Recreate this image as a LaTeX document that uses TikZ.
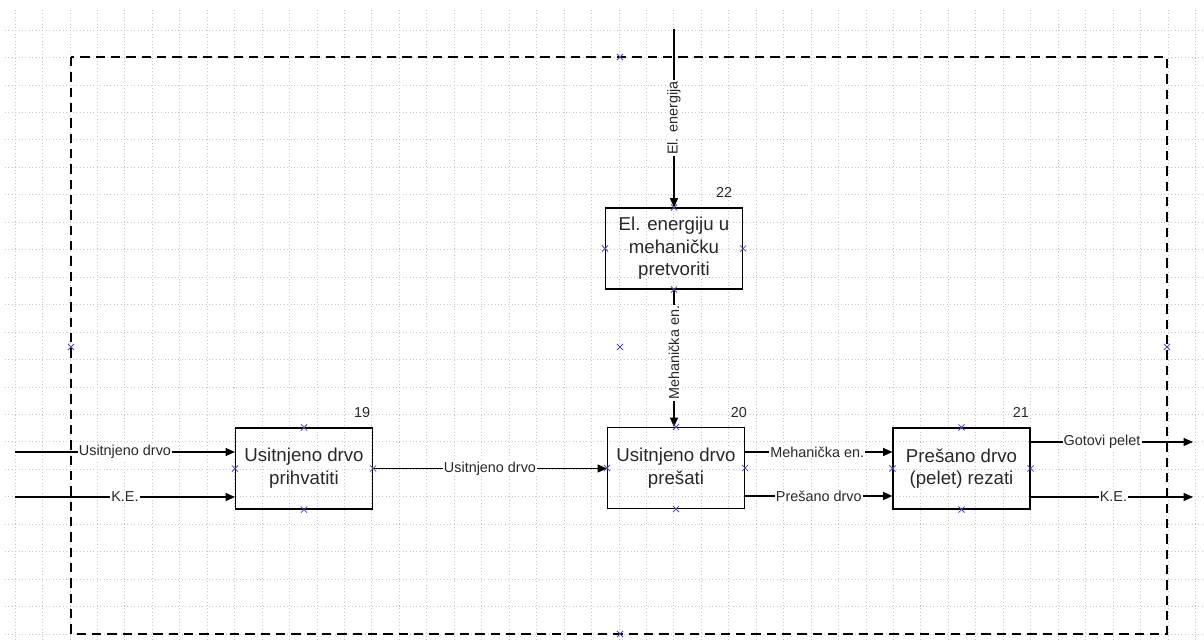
\documentclass[tikz,border=0pt]{standalone}
\usepackage{fontspec}
\setmainfont{Liberation Sans}
\usepackage{xcolor}
\usetikzlibrary{calc}
\usetikzlibrary{arrows.meta}
\usetikzlibrary{shapes.misc}
\definecolor{gridgray}{RGB}{198,198,198}
\definecolor{markblue}{RGB}{75,75,175}
\definecolor{txtgray}{RGB}{40,40,40}
\tikzset{
	funbox/.style={draw, line width=0.85pt, minimum width=102.75pt, minimum height=60.75pt, align=center, font=\fontsize{14}{17}\selectfont, text=txtgray, inner sep=0pt},
	lbl/.style={fill=white, inner sep=0.8pt, text=txtgray, font=\fontsize{10.8}{12}\selectfont},
	num/.style={inner sep=1pt, text=txtgray, font=\fontsize{10.8}{12}\selectfont},
	arr/.style={line width=0.85pt, -{Triangle[length=7pt, width=6pt]}},
	mk/.style={cross out, draw=markblue, line width=0.6pt, minimum size=4pt, inner sep=0pt}
}
\begin{document}
\begin{tikzpicture}[x=0.75pt, y=-0.75pt]
		\useasboundingbox (0,0) rectangle (1204,642);
		\foreach \k in {0,...,43}
			\draw[gridgray, dotted, line width=0.55pt] (15+27.45*\k, 10) -- (15+27.45*\k, 642);
		\foreach \k in {1,...,23}
			\draw[gridgray, dotted, line width=0.55pt] (5, 2.6+27.45*\k) -- (1204, 2.6+27.45*\k);
		\draw[black, line width=1.1pt, dash pattern=on 7pt off 4.5pt] (71,57) rectangle (1167,634);
		\node[funbox] (b19) at (304,468.5) {Usitnjeno drvo\\prihvatiti};
		\node[funbox] (b20) at (676,468) {Usitnjeno drvo\\prešati};
		\node[funbox] (b21) at (961.5,468.5) {Prešano drvo\\(pelet) rezati};
		\node[funbox] (b22) at (674,248.5) {El. energiju u\\mehaničku\\pretvoriti};
		\node[num, anchor=south east, yshift=6pt, xshift=-1pt] at (b19.north east) {19};
		\node[num, anchor=south east, yshift=6pt, xshift=2.5pt] at (b20.north east) {20};
		\node[num, anchor=south east, yshift=6pt, xshift=0pt] at (b21.north east) {21};
		\node[num, anchor=south east, yshift=6pt, xshift=-7pt] at (b22.north east) {22};
		\coordinate (in1) at (15,452);
		\coordinate (in2) at (15,497);
		\coordinate (out1) at (1193,442);
		\coordinate (out2) at (1193,497);
		\coordinate (top) at (674,29);
		\draw[arr] (in1) -- (in1 -| b19.west) node[lbl, midway] {Usitnjeno drvo};
		\draw[arr] (in2) -- (in2 -| b19.west) node[lbl, midway] {K.E.};
		\draw[arr] (b19.east) -- (b19.east -| b20.west) node[lbl, midway] {Usitnjeno drvo};
		\draw[arr] (top) -- (b22.north) node[lbl, midway, rotate=90] {El. energija};
		\draw[arr] (b22.south) -- (b22.south |- b20.north) node[lbl, pos=0.46, rotate=90] {Mehanička en.};
		\draw[arr] ($(b20.east)+(0,-16)$) -- ($(b20.east -| b21.west)+(0,-16)$) node[lbl, pos=0.49] {Mehanička en.};
		\draw[arr] ($(b20.east)+(0,28)$) -- ($(b20.east -| b21.west)+(0,28)$) node[lbl, pos=0.5] {Prešano drvo};
		\draw[arr] (b21.east |- out1) -- (out1) node[lbl, pos=0.44] {Gotovi pelet};
		\draw[arr] (b21.east |- out2) -- (out2) node[lbl, pos=0.51] {K.E.};
		\foreach \b in {b19,b20,b21,b22}
			\foreach \s in {north,south,east,west}
				\node[mk] at (\b.\s) {};
		\node[mk] at (620,57) {};
		\node[mk] at (71,347) {};
		\node[mk] at (1167,347) {};
		\node[mk] at (620,634) {};
		\node[mk] at (620,347) {};
\end{tikzpicture}
\end{document}
